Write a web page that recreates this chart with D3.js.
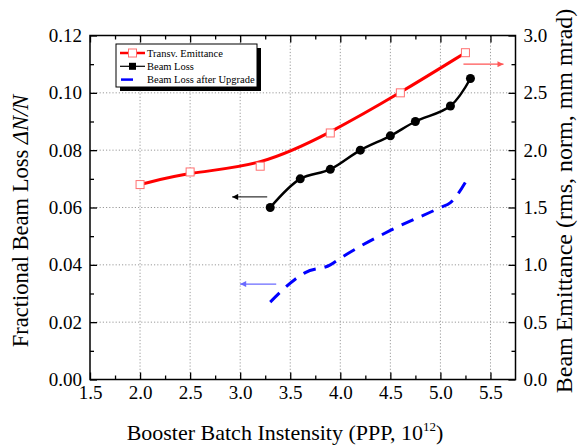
<!DOCTYPE html>
<html>
<head>
<meta charset="utf-8">
<script src="https://cdn.jsdelivr.net/npm/d3@7"></script>
<style>
body { margin: 0; background: #fff; }
text { font-family: "Liberation Serif", "Times New Roman", serif; }
</style>
</head>
<body>
<div></div>
<script>
const width = 578;
const height = 447;
const margin = {top: 35.5, right: 62.5, bottom: 67.5, left: 90};

// Transv. emittance (right axis)
const emitX = [2.0, 2.5, 3.2, 3.9, 4.6, 5.25];
const emitY = [1.70, 1.81, 1.86, 2.15, 2.50, 2.85];
// Beam loss (left axis)
const lossX = [3.3, 3.6, 3.9, 4.2, 4.5, 4.75, 5.1, 5.3];
const lossY = [0.060, 0.070, 0.0733, 0.080, 0.085, 0.090, 0.0954, 0.105];
// Beam loss after upgrade (left axis)
const upX = [3.3, 3.55, 3.65, 3.9, 4.0, 4.5, 5.0, 5.1, 5.27];
const upY = [0.027, 0.035, 0.0373, 0.040, 0.0423, 0.052, 0.060, 0.0617, 0.070];

const xTicks = [1.5, 2.0, 2.5, 3.0, 3.5, 4.0, 4.5, 5.0, 5.5];
const yLeftTicks = [0.00, 0.02, 0.04, 0.06, 0.08, 0.10, 0.12];
const yRightTicks = [0.0, 0.5, 1.0, 1.5, 2.0, 2.5, 3.0];
const legendLabels = ['Transv. Emittance', 'Beam Loss', 'Beam Loss after Upgrade'];

const svg = d3.select('div').append('svg').attr('width', width).attr('height', height);

const x = d3.scaleLinear().domain([1.5, 5.75]).range([margin.left, width - margin.right]);
const yL = d3.scaleLinear().domain([0, 0.12]).range([height - margin.bottom, margin.top]);
const yR = d3.scaleLinear().domain([0, 3]).range([height - margin.bottom, margin.top]);

const x0 = margin.left, x1 = width - margin.right, y0 = height - margin.bottom, y1 = margin.top;

// grid
const grid = svg.append('g').attr('stroke', '#9a9a9a').attr('stroke-width', 1).attr('stroke-dasharray', '1.2,2');
grid.selectAll('.gx').data(xTicks.slice(1)).enter().append('line')
    .attr('x1', d => x(d)).attr('x2', d => x(d)).attr('y1', y0).attr('y2', y1);
grid.selectAll('.gy').data(yLeftTicks.slice(1, -1)).enter().append('line')
    .attr('y1', d => yL(d)).attr('y2', d => yL(d)).attr('x1', x0).attr('x2', x1);

// axes (ticks inward)
const minorX = d3.range(1.75, 5.75, 0.5);
const fmt1 = d3.format('.1f'), fmt2 = d3.format('.2f');

svg.append('g').attr('transform', 'translate(0,' + y0 + ')')
    .call(d3.axisBottom(x).tickValues(xTicks).tickSizeInner(-7).tickSizeOuter(0).tickPadding(6).tickFormat(fmt1));
svg.append('g').attr('transform', 'translate(0,' + y0 + ')')
    .call(d3.axisBottom(x).tickValues(minorX).tickSizeInner(-4).tickSizeOuter(0).tickFormat(''));
svg.append('g').attr('transform', 'translate(0,' + y1 + ')')
    .call(d3.axisTop(x).tickValues(xTicks).tickSizeInner(-7).tickSizeOuter(0).tickFormat(''));
svg.append('g').attr('transform', 'translate(0,' + y1 + ')')
    .call(d3.axisTop(x).tickValues(minorX).tickSizeInner(-4).tickSizeOuter(0).tickFormat(''));

const minorY = d3.range(0.01, 0.12, 0.02);
svg.append('g').attr('transform', 'translate(' + x0 + ',0)')
    .call(d3.axisLeft(yL).tickValues(yLeftTicks).tickSizeInner(-7).tickSizeOuter(0).tickPadding(8).tickFormat(fmt2));
svg.append('g').attr('transform', 'translate(' + x0 + ',0)')
    .call(d3.axisLeft(yL).tickValues(minorY).tickSizeInner(-4).tickSizeOuter(0).tickFormat(''));

const minorR = d3.range(0.25, 3, 0.5);
svg.append('g').attr('transform', 'translate(' + x1 + ',0)')
    .call(d3.axisRight(yR).tickValues(yRightTicks).tickSizeInner(-7).tickSizeOuter(0).tickPadding(8).tickFormat(fmt1));
svg.append('g').attr('transform', 'translate(' + x1 + ',0)')
    .call(d3.axisRight(yR).tickValues(minorR).tickSizeInner(-4).tickSizeOuter(0).tickFormat(''));

svg.selectAll('.domain').remove();
svg.selectAll('.tick line').attr('stroke', '#000').attr('stroke-width', 1.3);
svg.selectAll('.tick text').attr('font-size', 19).attr('fill', '#000')
    .style('font-family', '"Liberation Serif", serif');

svg.append('rect').attr('x', x0).attr('y', y1).attr('width', x1 - x0).attr('height', y0 - y1)
    .attr('fill', 'none').attr('stroke', '#000').attr('stroke-width', 1.5);

// arrow heads
const defs = svg.append('defs');
[['ahk', '#000'], ['ahb', '#6a6aff'], ['ahr', '#ff5555']].forEach(([id, c]) => {
    defs.append('marker').attr('id', id).attr('viewBox', '0 0 10 10').attr('refX', 10).attr('refY', 5)
        .attr('markerWidth', 10).attr('markerHeight', 6).attr('markerUnits', 'userSpaceOnUse').attr('orient', 'auto')
        .append('path').attr('d', 'M0,0L10,5L0,10Z').attr('fill', c);
});

// series
const emit = emitX.map((v, i) => [v, emitY[i]]);
const loss = lossX.map((v, i) => [v, lossY[i]]);
const up = upX.map((v, i) => [v, upY[i]]);

svg.append('path').datum(emit).attr('fill', 'none').attr('stroke', '#ff0000').attr('stroke-width', 3)
    .attr('d', d3.line().x(d => x(d[0])).y(d => yR(d[1])).curve(d3.curveBasis));
svg.selectAll('.em').data(emit).enter().append('rect')
    .attr('x', d => x(d[0]) - 4).attr('y', d => yR(d[1]) - 4).attr('width', 8).attr('height', 8)
    .attr('fill', '#fff').attr('stroke', '#ff7070').attr('stroke-width', 1);

svg.append('path').datum(loss).attr('fill', 'none').attr('stroke', '#000').attr('stroke-width', 2.5)
    .attr('d', d3.line().x(d => x(d[0])).y(d => yL(d[1])).curve(d3.curveCatmullRom));
svg.selectAll('.bl').data(loss).enter().append('circle')
    .attr('cx', d => x(d[0])).attr('cy', d => yL(d[1])).attr('r', 4.5).attr('fill', '#000');

svg.append('path').datum(up).attr('fill', 'none').attr('stroke', '#0000ff').attr('stroke-width', 3)
    .attr('stroke-dasharray', '13,9')
    .attr('d', d3.line().x(d => x(d[0])).y(d => yL(d[1])).curve(d3.curveMonotoneX));

// pointer arrows
svg.append('line').attr('x1', x(3.27)).attr('x2', x(2.92)).attr('y1', yL(0.0637)).attr('y2', yL(0.0637))
    .attr('stroke', '#000').attr('stroke-width', 1).attr('marker-end', 'url(#ahk)');
svg.append('line').attr('x1', x(3.36)).attr('x2', x(3.0)).attr('y1', yL(0.0333)).attr('y2', yL(0.0333))
    .attr('stroke', '#6a6aff').attr('stroke-width', 1.3).attr('marker-end', 'url(#ahb)');
svg.append('line').attr('x1', x(5.23)).attr('x2', x(5.63)).attr('y1', yR(2.75)).attr('y2', yR(2.75))
    .attr('stroke', '#ff5555').attr('stroke-width', 1.3).attr('marker-end', 'url(#ahr)');

// legend
const lg = svg.append('g').attr('transform', 'translate(116,44)');
lg.append('rect').attr('x', 4).attr('y', 4).attr('width', 141).attr('height', 43).attr('fill', '#000');
lg.append('rect').attr('width', 141).attr('height', 43).attr('fill', '#fff').attr('stroke', '#000').attr('stroke-width', 1);
const rows = lg.selectAll('.row').data(legendLabels).enter().append('g')
    .attr('transform', (d, i) => 'translate(0,' + (9 + i * 13.3) + ')');
rows.append('text').attr('x', 31).attr('y', 3.8).attr('font-size', 10.5).text(d => d);
rows.filter((d, i) => i === 0).append('line').attr('x1', 4).attr('x2', 29).attr('stroke', '#ff0000').attr('stroke-width', 2.5);
rows.filter((d, i) => i === 0).append('rect').attr('x', 12.5).attr('y', -4).attr('width', 8).attr('height', 8)
    .attr('fill', '#fff').attr('stroke', '#ff7070');
rows.filter((d, i) => i === 1).append('line').attr('x1', 4).attr('x2', 29).attr('stroke', '#000').attr('stroke-width', 1.2);
rows.filter((d, i) => i === 1).append('rect').attr('x', 13).attr('y', -3.5).attr('width', 7).attr('height', 7).attr('fill', '#000');
rows.filter((d, i) => i === 2).append('line').attr('x1', 5).attr('x2', 17).attr('stroke', '#0000ff').attr('stroke-width', 2.5);

// axis titles
svg.append('text').attr('transform', 'translate(28,221) rotate(-90)')
    .attr('text-anchor', 'middle').attr('font-size', 22.5)
    .call(t => { t.append('tspan').text('Fractional Beam Loss '); t.append('tspan').attr('font-style', 'italic').text('ΔN/N'); });

svg.append('text').attr('transform', 'translate(572,201) rotate(-90)')
    .attr('text-anchor', 'middle').attr('font-size', 24).text('Beam Emittance (rms, norm, mm mrad)');

svg.append('text').attr('x', 285).attr('y', 440).attr('text-anchor', 'middle').attr('font-size', 22)
    .call(t => {
        t.append('tspan').text('Booster Batch Instensity (PPP, 10');
        t.append('tspan').attr('font-size', 13).attr('dy', -9).text('12');
        t.append('tspan').attr('dy', 9).text(')');
    });
</script>
</body>
</html>
